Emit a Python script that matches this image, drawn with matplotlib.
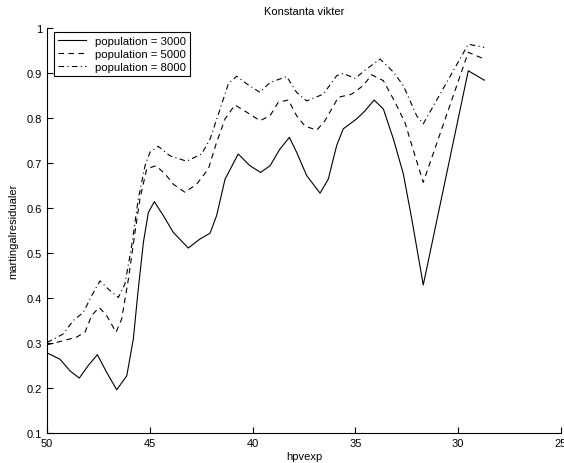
import numpy as np
import matplotlib.pyplot as plt

plt.rcParams['font.family'] = ['Liberation Sans', 'DejaVu Sans']

# population = 3000
x3000 = [50, 49.37, 48.88, 48.43, 47.99, 47.55, 47.10, 46.61, 46.12, 45.80, 45.56, 45.31,
         45.07, 44.78, 44.34, 43.86, 43.13, 42.56, 42.07, 41.75, 41.34, 40.70, 40.13,
         39.61, 39.15, 38.67, 38.21, 37.86, 37.37, 36.72, 36.32, 35.91, 35.59, 34.94,
         34.53, 34.09, 33.64, 33.15, 32.67, 32.26, 31.70, 29.51, 28.73]
y3000 = [0.278, 0.264, 0.238, 0.222, 0.250, 0.274, 0.235, 0.196, 0.227, 0.309, 0.42, 0.524,
         0.590, 0.614, 0.583, 0.546, 0.511, 0.531, 0.544, 0.583, 0.664, 0.720, 0.694,
         0.679, 0.694, 0.731, 0.757, 0.724, 0.672, 0.633, 0.664, 0.739, 0.776, 0.798,
         0.816, 0.840, 0.820, 0.753, 0.676, 0.576, 0.429, 0.905, 0.884]

# population = 5000
x5000 = [50, 49.21, 48.56, 48.15, 47.83, 47.46, 47.10, 46.64, 46.37, 46.04, 45.72, 45.48,
         45.15, 44.70, 44.26, 43.86, 43.29, 42.72, 42.15, 41.75, 41.34, 40.86, 40.29,
         39.64, 39.15, 38.75, 38.26, 37.86, 37.45, 36.88, 36.48, 35.83, 35.18, 34.62,
         34.21, 33.64, 33.07, 32.59, 32.10, 31.70, 29.51, 28.73]
y5000 = [0.296, 0.305, 0.313, 0.324, 0.361, 0.379, 0.361, 0.324, 0.353, 0.442, 0.546, 0.62,
         0.687, 0.694, 0.676, 0.653, 0.635, 0.653, 0.687, 0.746, 0.798, 0.829, 0.813,
         0.794, 0.805, 0.835, 0.840, 0.805, 0.782, 0.773, 0.794, 0.846, 0.853, 0.872,
         0.896, 0.883, 0.835, 0.790, 0.716, 0.657, 0.946, 0.931]

# population = 8000
x8000 = [50, 49.21, 48.72, 48.23, 47.83, 47.42, 47.02, 46.53, 46.21, 45.88, 45.56, 45.23,
         44.99, 44.59, 44.02, 43.21, 42.48, 42.07, 41.58, 41.18, 40.77, 40.29, 39.64,
         39.15, 38.34, 37.86, 37.37, 36.56, 35.91, 35.59, 35.02, 34.45, 33.80, 33.15,
         32.67, 32.02, 31.70, 29.51, 28.73]
y8000 = [0.301, 0.320, 0.350, 0.368, 0.405, 0.438, 0.420, 0.401, 0.431, 0.516, 0.62, 0.694,
         0.724, 0.737, 0.716, 0.704, 0.720, 0.753, 0.820, 0.876, 0.893, 0.876, 0.857,
         0.879, 0.892, 0.857, 0.838, 0.853, 0.894, 0.899, 0.888, 0.909, 0.931, 0.902,
         0.872, 0.805, 0.787, 0.964, 0.957]

fig = plt.figure(figsize=(5.64, 4.64), dpi=100)
ax = fig.add_axes([0.0833, 0.0647, 0.9114, 0.8728])

ax.plot(x3000, y3000, 'k-', lw=0.8, label='population = 3000')
ax.plot(x5000, y5000, 'k--', lw=0.8, dashes=(5, 4), label='population = 5000')
ax.plot(x8000, y8000, 'k-.', lw=0.8, dashes=(5, 3, 1, 3), label='population = 8000')

ax.set_xlim(50, 25)
ax.set_ylim(0.1, 1)
ax.set_xticks([50, 45, 40, 35, 30, 25])
ax.set_yticks(np.arange(0.1, 1.01, 0.1))
ax.set_yticklabels(['0.1', '0.2', '0.3', '0.4', '0.5', '0.6', '0.7', '0.8', '0.9', '1'])
ax.tick_params(direction='in', labelsize=8, length=4, width=0.8)
ax.spines['top'].set_visible(False)
ax.spines['right'].set_visible(False)

ax.set_title('Konstanta vikter', fontsize=8, pad=10)
ax.set_xlabel('hpvexp', fontsize=8, labelpad=2)
ax.set_ylabel('martingalresidualer', fontsize=8, labelpad=6)

leg = ax.legend(loc='upper left', fontsize=8.2, fancybox=False, framealpha=1,
                edgecolor='black', bbox_to_anchor=(0.013, 0.99), borderaxespad=0,
                handlelength=2.5, handletextpad=0.8, labelspacing=0.25, borderpad=0.35)
leg.get_frame().set_linewidth(0.8)

fig.savefig('out.png', dpi=100)
